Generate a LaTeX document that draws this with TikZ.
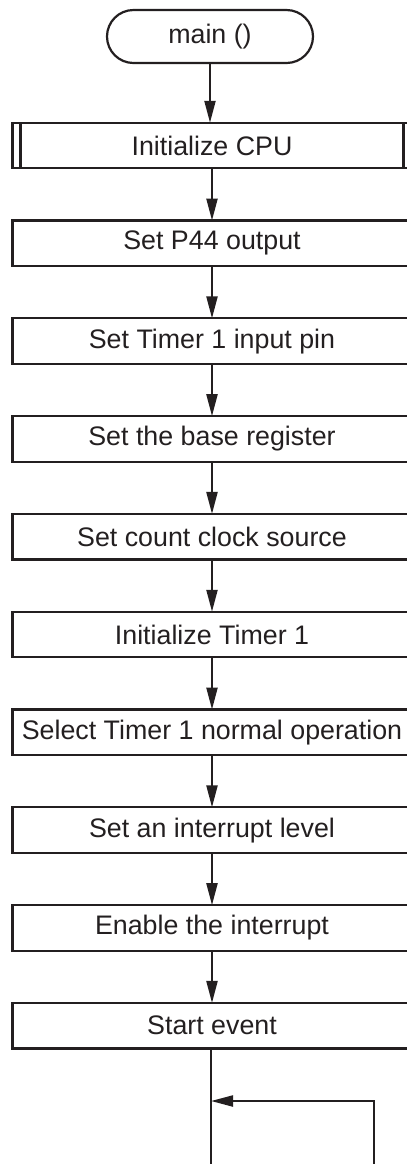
\documentclass[tikz,border=0pt]{standalone}
\usepackage{fontspec}
\setmainfont{Liberation Sans}
\usepackage{tikz}
\usetikzlibrary{arrows.meta}
\definecolor{ink}{HTML}{231F20}

\begin{document}
\begin{tikzpicture}[x=0.5pt,y=-0.5pt,
  line width=1.1pt,draw=ink,text=ink,
  font=\fontsize{13.4}{15}\selectfont,
  >={Triangle[length=11pt,width=5.5pt]},
  term/.style={draw,rounded corners=13.25pt,minimum width=103pt,minimum height=26.5pt,outer sep=0pt},
  proc/.style={draw,minimum width=199.5pt,minimum height=22.75pt,outer sep=0pt}]
\useasboundingbox (0,0) rectangle (407,1164);
\node[term](0) at (210,36.5){main ()};
\foreach \t[count=\i from 0,evaluate=\i as\j using int(\i+1)] in {
  Initialize CPU,
  Set P44 output,
  Set Timer 1 input pin,
  Set the base register,
  Set count clock source,
  Initialize Timer 1,
  Select Timer 1 normal operation,
  Set an interrupt level,
  Enable the interrupt,
  Start event
}{
\node[proc](\j) at (212,{145.5+97.8*\i}){\t};
\draw[->] (\i.south) -- (\i.south|-\j.north);
}
% predefined process bars
\draw ([xshift=4pt]1.north west) -- ([xshift=4pt]1.south west);
\draw ([xshift=-4pt]1.north east) -- ([xshift=-4pt]1.south east);
% main loop
\coordinate (out) at (211,1180);
\coordinate (back) at (374,1180);
\coordinate (join) at (211,1101);
\draw (10.south-|out) -- (out);
\draw[->] (back) |- (join);
\end{tikzpicture}
\end{document}
